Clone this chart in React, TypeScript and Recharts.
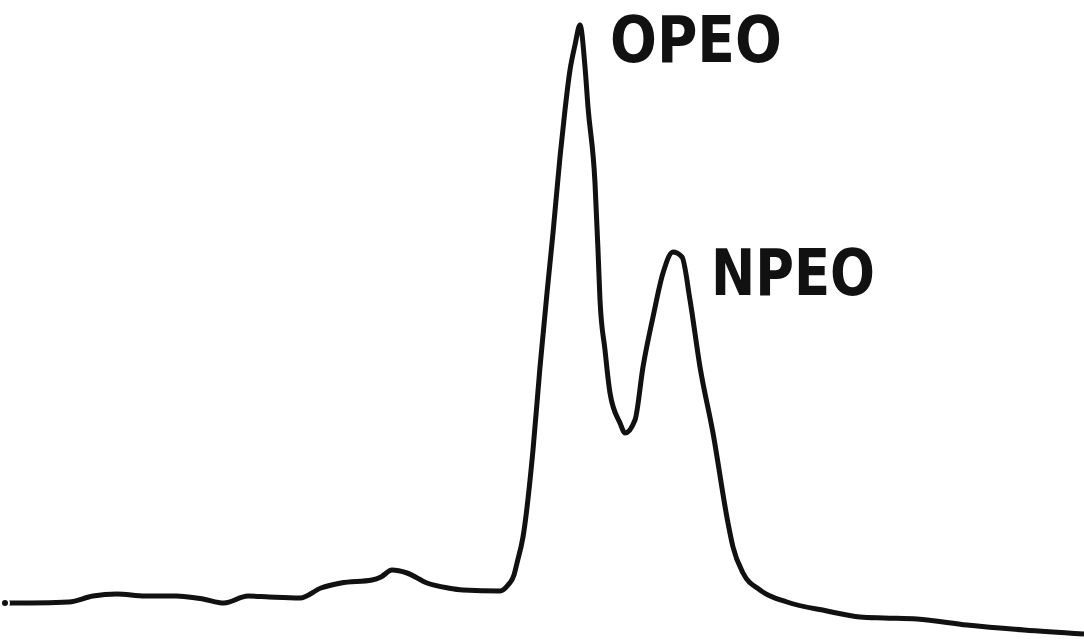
import React from "react";
import { LineChart, Line, XAxis, YAxis, ReferenceDot } from "recharts";

// scan of a chromatogram trace
const retentionTime = [
  5, 30, 69, 93, 117, 145, 176, 203, 224, 248, 269, 300, 321, 341, 372, 381,
  392, 407, 427, 448, 463, 500, 508, 514, 517, 523, 533, 540, 547, 553, 560,
  565, 570, 575, 580, 585, 588, 595, 598, 600, 605, 610, 620, 625, 635, 643,
  653, 663, 673, 682, 690, 700, 713, 728, 733, 743, 760, 787, 827, 860, 884,
  917, 967, 1024, 1084,
];
const detectorSignal = [
  39, 39, 40, 46, 48, 46, 46, 43, 39, 46, 45, 44, 54, 59, 62, 65, 72, 69, 59,
  54, 52, 51, 57, 67, 79, 105, 192, 275, 349, 409, 485, 532, 572, 597, 617,
  575, 535, 459, 392, 342, 292, 249, 219, 209, 222, 275, 325, 369, 390, 385,
  342, 275, 209, 119, 95, 69, 52, 40, 31, 25, 24, 23, 17, 12, 8,
];
const peakNames = ["OPEO", "NPEO"];
const peakTimes = [580, 673];

const data = retentionTime.map((t, i) => ({ t, v: detectorSignal[i] }));

const W = 1084;
const H = 642;

const PeakLabel = (name: string, width: number) => (props: any) => {
  const vb = props.viewBox || {};
  return (
    <text
      x={vb.x + (name === "OPEO" ? 31 : 39)}
      y={vb.y + (name === "OPEO" ? 38 : 44)}
      fontFamily="DejaVu Sans"
      fontWeight="bold"
      fontSize={64}
      fill="#111"
      textLength={width}
      lengthAdjust="spacingAndGlyphs"
    >
      {name}
    </text>
  );
};

export default function App() {
  return (
    <div style={{ position: "absolute", left: 0, top: 0, width: W, height: H, background: "#fff" }}>
      <LineChart width={W} height={H} data={data} margin={{ top: 0, right: 0, bottom: 0, left: 0 }}>
        <XAxis dataKey="t" type="number" domain={[0, W]} hide />
        <YAxis type="number" domain={[0, H]} hide />
        <Line
          type="monotone"
          dataKey="v"
          stroke="#111"
          strokeWidth={5}
          strokeLinejoin="round"
          dot={false}
          isAnimationActive={false}
        />
        {peakNames.map((name, i) => {
          const idx = retentionTime.indexOf(peakTimes[i]);
          return (
            <ReferenceDot
              key={name}
              x={peakTimes[i]}
              y={detectorSignal[idx]}
              r={1}
              fill="none"
              stroke="none"
              label={PeakLabel(name, name === "OPEO" ? 172 : 164)}
            />
          );
        })}
      </LineChart>
    </div>
  );
}
